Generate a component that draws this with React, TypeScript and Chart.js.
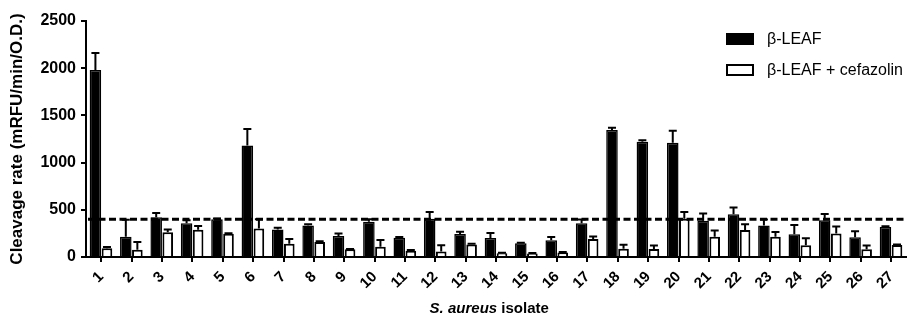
import { useEffect, useRef } from "react";
import { Chart, registerables } from "chart.js";

Chart.register(...registerables);

const categories = [
  "1", "2", "3", "4", "5", "6", "7", "8", "9", "10", "11", "12", "13", "14",
  "15", "16", "17", "18", "19", "20", "21", "22", "23", "24", "25", "26", "27",
];

const seriesNames = ["\u03B2-LEAF", "\u03B2-LEAF + cefazolin"];

const leafValues = [1980, 215, 420, 357, 400, 1180, 290, 335, 222, 374, 205, 405, 244, 200, 145, 178, 357, 1345, 1221, 1211, 385, 452, 335, 242, 390, 209, 318];
const leafErrors = [180, 180, 45, 32, 8, 177, 20, 12, 26, 27, 8, 72, 24, 55, 6, 35, 40, 25, 15, 127, 75, 72, 62, 97, 65, 64, 8];
const cefValues = [92, 78, 262, 288, 245, 302, 140, 158, 81, 109, 65, 57, 132, 40, 38, 48, 192, 88, 84, 406, 215, 286, 215, 124, 248, 83, 127];
const cefErrors = [15, 80, 30, 40, 6, 98, 50, 8, 5, 70, 10, 68, 8, 5, 5, 6, 24, 42, 38, 70, 67, 62, 50, 75, 74, 40, 6];

const yTicks = [0, 500, 1000, 1500, 2000, 2500];
const threshold = 400;

const yTitle = "Cleavage rate (mRFU/min/O.D.)";
const xTitleItalic = "S. aureus";
const xTitleRest = " isolate";

const FONT = "'Liberation Sans', Arial, Helvetica, sans-serif";

const errorBarsPlugin = {
  id: "errorBars",
  afterDatasetsDraw(chart: any, _args: any, opts: any) {
    const ctx = chart.ctx;
    const yScale = chart.scales.y;
    const errs: number[][] = opts.errors || [];
    chart.data.datasets.forEach((ds: any, di: number) => {
      const meta = chart.getDatasetMeta(di);
      const e = errs[di];
      if (!e) return;
      meta.data.forEach((bar: any, i: number) => {
        const v = ds.data[i];
        const yTop = bar.y;
        const yErr = yScale.getPixelForValue(v + e[i]);
        ctx.save();
        ctx.strokeStyle = "#000";
        ctx.lineWidth = 2;
        ctx.beginPath();
        ctx.moveTo(bar.x, yTop);
        ctx.lineTo(bar.x, yErr);
        ctx.moveTo(bar.x - 4, yErr);
        ctx.lineTo(bar.x + 4, yErr);
        ctx.stroke();
        ctx.restore();
      });
    });
  },
};

const thresholdPlugin = {
  id: "thresholdLine",
  afterDatasetsDraw(chart: any, _args: any, opts: any) {
    const ctx = chart.ctx;
    const { left, right } = chart.chartArea;
    const y = chart.scales.y.getPixelForValue(opts.value);
    ctx.save();
    ctx.strokeStyle = "#000";
    ctx.lineWidth = 3;
    ctx.setLineDash([7, 3.5]);
    ctx.beginPath();
    ctx.moveTo(left + 2, y);
    ctx.lineTo(right, y);
    ctx.stroke();
    ctx.restore();
  },
};

const legendPlugin = {
  id: "customLegend",
  afterDraw(chart: any) {
    const ctx = chart.ctx;
    const boxX = 727;
    const rows = [39, 70];
    ctx.save();
    chart.data.datasets.forEach((ds: any, i: number) => {
      const cy = rows[i];
      ctx.fillStyle = ds.backgroundColor;
      ctx.strokeStyle = "#000";
      ctx.lineWidth = 2;
      ctx.fillRect(boxX, cy - 5, 26, 10);
      ctx.strokeRect(boxX, cy - 5, 26, 10);
      ctx.fillStyle = "#000";
      ctx.font = `16px ${FONT}`;
      ctx.textAlign = "left";
      ctx.textBaseline = "middle";
      ctx.fillText(ds.label, 767, cy + 1);
    });
    ctx.restore();
  },
};

const xTitlePlugin = {
  id: "xTitle",
  afterDraw(chart: any) {
    const ctx = chart.ctx;
    const { left, right } = chart.chartArea;
    ctx.save();
    ctx.fillStyle = "#000";
    ctx.textBaseline = "alphabetic";
    ctx.textAlign = "left";
    const f1 = `italic bold 15px ${FONT}`;
    const f2 = `bold 15px ${FONT}`;
    ctx.font = f1;
    const w1 = ctx.measureText(xTitleItalic).width;
    ctx.font = f2;
    const w2 = ctx.measureText(xTitleRest).width;
    const cx = (left + right) / 2 - 7;
    const x0 = cx - (w1 + w2) / 2;
    const y = 313;
    ctx.font = f1;
    ctx.fillText(xTitleItalic, x0, y);
    ctx.font = f2;
    ctx.fillText(xTitleRest, x0 + w1, y);
    ctx.restore();
  },
};

export default function App() {
  const canvasRef = useRef<HTMLCanvasElement | null>(null);

  useEffect(() => {
    document.body.style.margin = "0";
    const canvas = canvasRef.current;
    if (!canvas) return;
    const chart = new Chart(canvas, {
      type: "bar",
      data: {
        labels: categories,
        datasets: [
          {
            label: seriesNames[0],
            data: leafValues,
            backgroundColor: "#000000",
            borderColor: "#000000",
            borderWidth: 1.5,
            categoryPercentage: 0.76,
            barPercentage: 1.0,
          },
          {
            label: seriesNames[1],
            data: cefValues,
            backgroundColor: "#ffffff",
            borderColor: "#000000",
            borderWidth: 2,
            categoryPercentage: 0.76,
            barPercentage: 0.92,
          },
        ],
      },
      options: {
        responsive: false,
        animation: false,
        devicePixelRatio: 1,
        layout: { padding: { top: 21, right: 2, left: 0, bottom: 0 } },
        plugins: {
          legend: { display: false },
          tooltip: { enabled: false },
          errorBars: { errors: [leafErrors, cefErrors] },
          thresholdLine: { value: threshold },
        } as any,
        scales: {
          x: {
            type: "category",
            offset: true,
            grid: {
              display: true,
              drawOnChartArea: false,
              drawTicks: true,
              tickLength: 5,
              lineWidth: 2,
              color: "#000",
              offset: false,
            },
            border: { display: true, color: "#000", width: 2 },
            ticks: {
              color: "#000",
              font: { family: FONT, size: 15, weight: "bold" },
              maxRotation: 45,
              minRotation: 45,
              autoSkip: false,
              padding: 6,
            },
            afterFit(scale: any) {
              scale.height = 58;
            },
          },
          y: {
            min: yTicks[0],
            max: yTicks[yTicks.length - 1],
            afterBuildTicks(scale: any) {
              scale.ticks = yTicks.map((v) => ({ value: v }));
            },
            grid: {
              display: true,
              drawOnChartArea: false,
              drawTicks: true,
              tickLength: 5,
              lineWidth: 2,
              color: "#000",
            },
            border: { display: true, color: "#000", width: 2 },
            ticks: {
              color: "#000",
              font: { family: FONT, size: 16, weight: "bold" },
              padding: 5,
              callback: (v: any) => String(v),
            },
            title: {
              display: true,
              text: yTitle,
              color: "#000",
              font: { family: FONT, size: 17, weight: "bold" },
              padding: { top: 7, bottom: 0 },
            },
            afterFit(scale: any) {
              scale.width = 86;
            },
          },
        },
      },
      plugins: [errorBarsPlugin, thresholdPlugin, legendPlugin, xTitlePlugin],
    });
    return () => chart.destroy();
  }, []);

  return (
    <div style={{ width: 910, height: 315 }}>
      <canvas ref={canvasRef} width={910} height={315} />
    </div>
  );
}
